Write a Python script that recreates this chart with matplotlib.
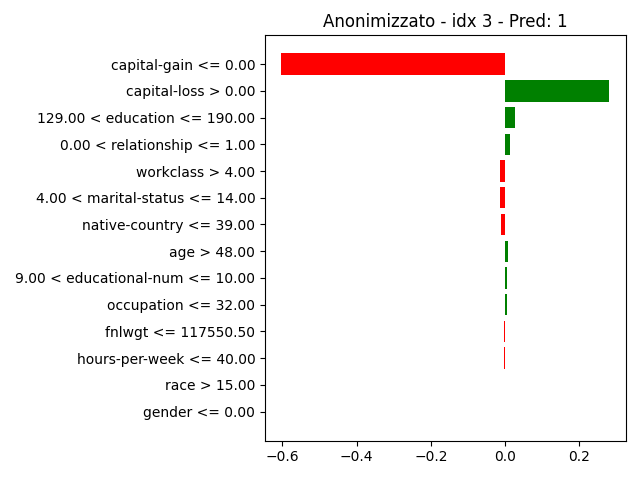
import matplotlib
matplotlib.use("Agg")
import matplotlib.pyplot as plt
import numpy as np

features = [
    "capital-gain <= 0.00",
    "capital-loss > 0.00",
    "129.00 < education <= 190.00",
    "0.00 < relationship <= 1.00",
    "workclass > 4.00",
    "4.00 < marital-status <= 14.00",
    "native-country <= 39.00",
    "age > 48.00",
    "9.00 < educational-num <= 10.00",
    "occupation <= 32.00",
    "fnlwgt <= 117550.50",
    "hours-per-week <= 40.00",
    "race > 15.00",
    "gender <= 0.00",
]
weights = [-0.603, 0.280, 0.026, 0.013, -0.014, -0.014, -0.012,
           0.008, 0.006, 0.006, -0.002, -0.002, 0.0, 0.0]

vals = weights[::-1]
names = features[::-1]
colors = ["green" if v > 0 else "red" for v in vals]
pos = np.arange(len(vals)) + .5

fig = plt.figure(figsize=(6.4, 4.8), dpi=100)
plt.barh(pos, vals, align="center", color=colors)
plt.yticks(pos, names)
plt.title("Anonimizzato - idx 3 - Pred: 1")
plt.subplots_adjust(left=265/640, right=625.5/640, top=1-35/480, bottom=1-440.7/480)
plt.savefig("out.png")
